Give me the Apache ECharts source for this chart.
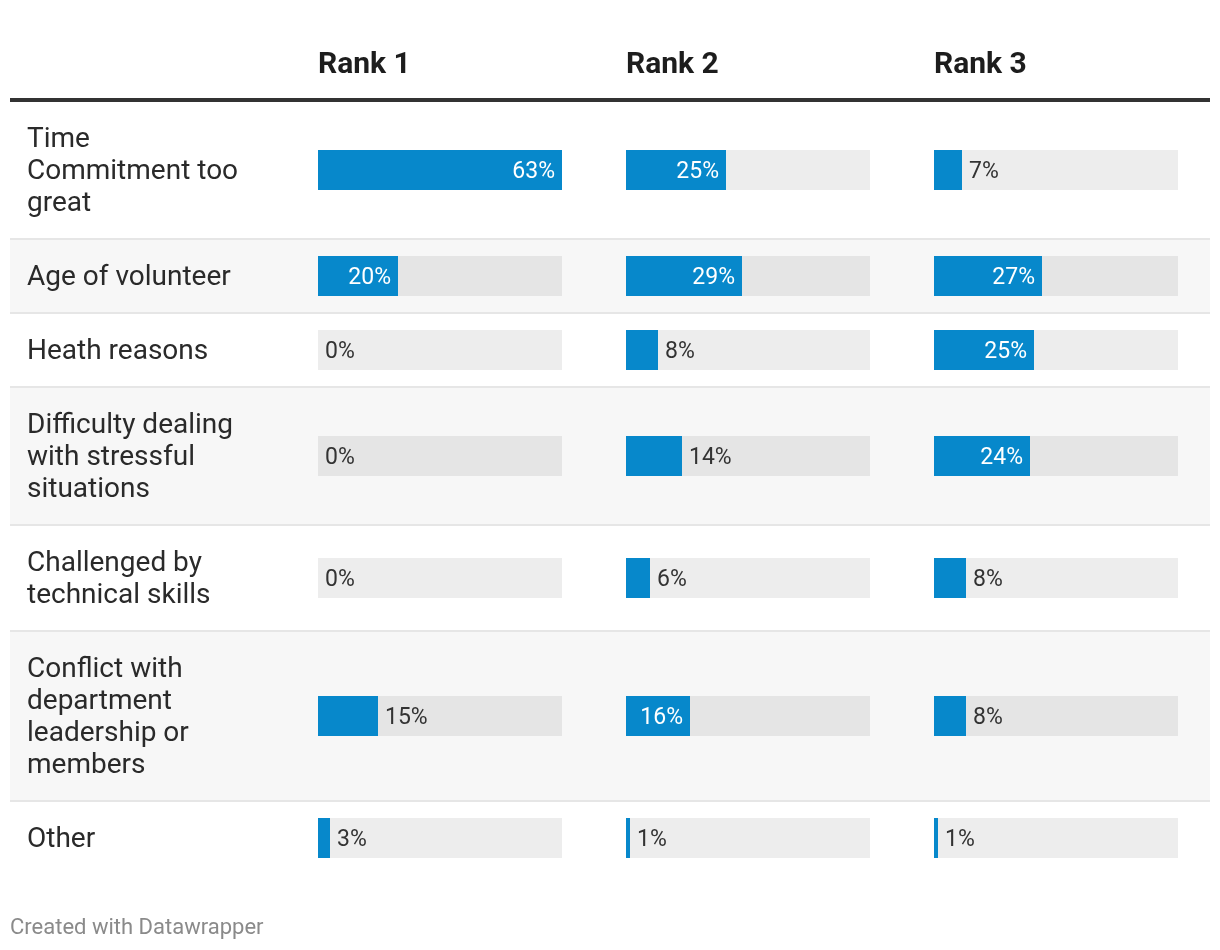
<!DOCTYPE html>
<html>
<head>
<meta charset="utf-8">
<script src="https://cdn.jsdelivr.net/npm/echarts@6/dist/echarts.min.js"></script>
<style>
html,body{margin:0;padding:0;background:#ffffff;}
#chart{width:1220px;height:950px;}
</style>
</head>
<body>
<div id="chart"></div>
<script>
// ---- data ----
const rowLabels = [
  "Time\nCommitment too\ngreat",
  "Age of volunteer",
  "Heath reasons",
  "Difficulty dealing\nwith stressful\nsituations",
  "Challenged by\ntechnical skills",
  "Conflict with\ndepartment\nleadership or\nmembers",
  "Other"
];
const columnTitles = ["Rank 1", "Rank 2", "Rank 3"];
const rank1 = [63, 20, 0, 0, 0, 15, 3];
const rank2 = [25, 29, 8, 14, 6, 16, 1];
const rank3 = [7, 27, 25, 24, 8, 8, 1];
const footerText = "Created with Datawrapper";

// ---- layout / style ----
const columns = [rank1, rank2, rank3];
const FONT = "Roboto, 'Noto Sans', sans-serif";
const colX = [318, 626, 934];
const colW = 244;
const scaleMax = 61;
const barH = 40;
const lineH = 32;
const rowPad = 40;
const sepH = 2;
const tableLeft = 10, tableWidth = 1200;
const headerLineY = 98, headerLineH = 4;
const blue = '#0788cb';

let yCursor = headerLineY + headerLineH;
const rows = rowLabels.map(function (lbl) {
  const n = lbl.split('\n').length;
  const h = n * lineH + rowPad;
  const r = { top: yCursor, h: h };
  yCursor += h + sepH;
  return r;
});

const grids = [], xAxes = [], yAxes = [], series = [], graphics = [];

// row backgrounds, separators and row labels
rows.forEach(function (r, i) {
  if (i % 2 === 1) {
    graphics.push({ type: 'rect', z: -10, silent: true,
      shape: { x: tableLeft, y: r.top, width: tableWidth, height: r.h },
      style: { fill: '#f7f7f7' } });
  }
  if (i < rows.length - 1) {
    graphics.push({ type: 'rect', z: -10, silent: true,
      shape: { x: tableLeft, y: r.top + r.h, width: tableWidth, height: sepH },
      style: { fill: '#e6e6e6' } });
  }
  graphics.push({ type: 'text', x: 27, y: r.top + r.h / 2 + 2, silent: true,
    style: { text: rowLabels[i], fill: '#2a2a2a', font: '28px ' + FONT,
      lineHeight: lineH, textAlign: 'left', textVerticalAlign: 'middle' } });
});
// header line
graphics.push({ type: 'rect', z: -5, silent: true,
  shape: { x: tableLeft, y: headerLineY, width: tableWidth, height: headerLineH },
  style: { fill: '#333333' } });
// header titles
columnTitles.forEach(function (t, c) {
  graphics.push({ type: 'text', x: colX[c], y: 65, silent: true,
    style: { text: t, fill: '#1d1d1d', font: 'bold 30px ' + FONT,
      textAlign: 'left', textVerticalAlign: 'middle' } });
});
// footer
graphics.push({ type: 'text', x: 10, y: 928, silent: true,
  style: { text: footerText, fill: '#8a8a8a', font: '22px ' + FONT,
    textAlign: 'left', textVerticalAlign: 'middle' } });

let gi = 0;
rows.forEach(function (r, ri) {
  columns.forEach(function (vals, ci) {
    const v = vals[ri];
    grids.push({ left: colX[ci], top: r.top + (r.h - barH) / 2, width: colW, height: barH,
      containLabel: false, outerBoundsMode: 'none' });
    xAxes.push({ type: 'value', gridIndex: gi, min: 0, max: scaleMax, show: false });
    yAxes.push({ type: 'category', gridIndex: gi, data: [rowLabels[ri]], show: false });
    const inside = v >= 16;
    series.push({ type: 'bar', xAxisIndex: gi, yAxisIndex: gi, data: [v],
      barWidth: '100%', clip: true, animation: false,
      itemStyle: { color: blue },
      showBackground: true, backgroundStyle: { color: 'rgba(0,0,0,0.07)' },
      label: { show: true, position: inside ? 'insideRight' : 'right', distance: 7,
        offset: [0, 2],
        color: inside ? '#ffffff' : '#333333', fontSize: 23, fontFamily: FONT,
        formatter: function (p) { return p.value + '%'; } } });
    gi++;
  });
});

const chart = echarts.init(document.getElementById('chart'), null, { renderer: 'canvas' });
chart.setOption({
  backgroundColor: '#ffffff',
  animation: false,
  textStyle: { fontFamily: FONT },
  grid: grids, xAxis: xAxes, yAxis: yAxes, series: series,
  graphic: { elements: graphics }
});
</script>
</body>
</html>
